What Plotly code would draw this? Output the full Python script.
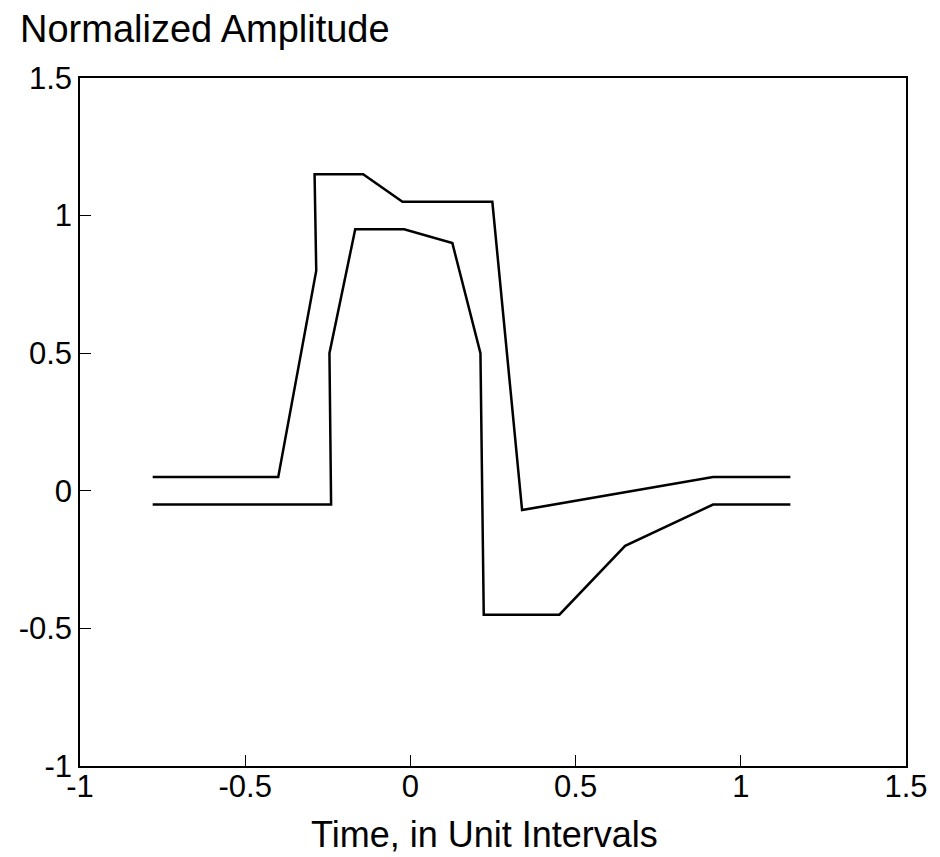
import plotly.graph_objects as go

# Upper trace
upper_x = [-0.78, -0.40, -0.285, -0.29, -0.143, -0.084, -0.024, 0.248, 0.338, 0.916, 1.15]
upper_y = [0.05, 0.05, 0.80, 1.15, 1.15, 1.10, 1.05, 1.05, -0.07, 0.05, 0.05]

# Lower trace
lower_x = [-0.78, -0.24, -0.245, -0.167, -0.019, 0.127, 0.212, 0.222, 0.451, 0.65, 0.916, 1.15]
lower_y = [-0.05, -0.05, 0.50, 0.95, 0.95, 0.90, 0.50, -0.45, -0.45, -0.20, -0.05, -0.05]

tick_vals = [-1, -0.5, 0, 0.5, 1, 1.5]
tick_text = ["-1", "-0.5", "0", "0.5", "1", "1.5"]

FONT = "Liberation Sans, Arial, Helvetica, sans-serif"

fig = go.Figure()
for xs, ys in [(upper_x, upper_y), (lower_x, lower_y)]:
    fig.add_trace(go.Scatter(x=xs, y=ys, mode="lines",
                             line=dict(color="black", width=2.5),
                             showlegend=False, hoverinfo="skip"))

fig.update_layout(
    width=940, height=857,
    margin=dict(l=72, r=42, t=70, b=99),
    paper_bgcolor="white", plot_bgcolor="white",
    font=dict(family=FONT, color="black", size=31),
    annotations=[
        dict(text="Normalized Amplitude", xref="paper", yref="paper",
             x=-0.075, y=1.0, xanchor="left", yanchor="bottom",
             yshift=26, showarrow=False,
             font=dict(family=FONT, size=38, color="black")),
        dict(text="Time, in Unit Intervals", xref="paper", yref="paper",
             x=0.49, y=0.0, xanchor="center", yanchor="top",
             yshift=-46, showarrow=False,
             font=dict(family=FONT, size=36, color="black")),
    ],
)
fig.update_xaxes(range=[-1, 1.5], tickvals=tick_vals, ticktext=tick_text,
                 ticks="inside", ticklen=11, tickwidth=1.2, tickcolor="black",
                 showline=True, linecolor="black", linewidth=1.5, mirror=True,
                 showgrid=False, zeroline=False, ticklabelstandoff=-8,
                 tickfont=dict(family=FONT, size=31))
fig.update_yaxes(range=[-1, 1.5], tickvals=tick_vals, ticktext=tick_text,
                 ticks="inside", ticklen=11, tickwidth=1.2, tickcolor="black",
                 showline=True, linecolor="black", linewidth=1.5, mirror=True,
                 showgrid=False, zeroline=False,
                 tickfont=dict(family=FONT, size=31))

fig.write_html("out.html")
